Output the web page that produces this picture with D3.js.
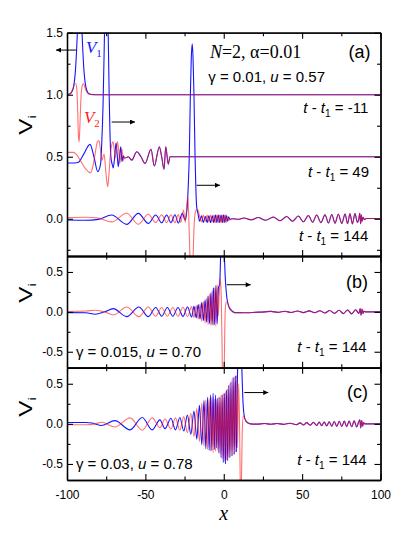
<!DOCTYPE html>
<html>
<head>
<meta charset="utf-8">
<script src="https://cdn.jsdelivr.net/npm/d3@7"></script>
<style>
body{margin:0;background:#fff;}
text{white-space:pre;}
</style>
</head>
<body>
<div class="chart"></div>
<script>
// tick values
var xMajor=[-100,-50,0,50,100];
var xMinor=[-75,-25,25,75];
var yMajorA=[0,0.5,1.0,1.5];
var yMinorA=[-0.25,0.25,0.75,1.25];
var yMajorB=[-0.5,0,0.5];
var yMinorB=[-0.25,0.25];

// panel (a): three times, shifted by these offsets
var offsetsA=[1.0,0.5,0.0];
var timesA=['-11','49','144'];

// (a) t-t1=-11
var a1Blue=[[-100,0.002],[-98,0.008],[-97,0.022],[-95.9,0.059],[-94.9,0.152],[-94.4,0.236],[-93.9,0.353],[-93.4,0.5],[-92.9,0.66],[-92.4,0.79],[-91.9,0.84],[-91.4,0.79],[-90.9,0.66],[-90.4,0.5],[-89.9,0.353],[-89.4,0.236],[-88.9,0.152],[-87.9,0.059],[-86.9,0.022],[-85.9,0.008],[-84,0.002],[-80,0],[100,0]];
var a1Red=[[-100,0],[-98,0.01],[-96.5,0.04],[-95.3,0.08],[-94.4,0.09],[-93.7,0.04],[-93.2,-0.12],[-92.7,-0.33],[-92.3,-0.38],[-91.9,-0.3],[-91.4,-0.12],[-90.8,0.03],[-90.1,0.08],[-89.4,0.09],[-88.6,0.06],[-87.6,0.025],[-86.2,0.006],[-84,0],[100,0]];

// (a) t-t1=49
var a2Blue=[[-100,-0.05],[-95,-0.05],[-92.8,-0.045],[-89.6,0.015],[-85.3,0.1],[-82.8,0.0],[-80.4,-0.12],[-78.6,-0.06],[-77.8,0.12],[-77,0.42],[-76.3,0.85],[-75.6,1.3],[-74.9,1.5],[-74.2,1.3],[-73.6,0.9],[-73.1,0.5],[-72.6,0.2],[-72.0,0.0],[-71.2,-0.06],[-70.5,-0.09],[-69.6,0.0],[-68.7,0.11],[-68.0,0.02],[-67.3,-0.08],[-66.5,0.0],[-65.7,0.08],[-64.9,-0.04],[-64.2,0.01],[-63.6,-0.01]];
var a2Red=[[-100,0.035],[-96,0.035],[-94,0.02],[-91.5,-0.03],[-88,-0.1],[-85,-0.13],[-83.5,-0.08],[-82,0.03],[-80.6,0.12],[-79.6,0.13],[-78.6,0.05],[-77.8,-0.03],[-77,0.0],[-76.3,0.02],[-75.5,-0.08],[-74.6,-0.2],[-74,-0.24],[-73.3,-0.15],[-72.3,0.02],[-71.4,0.1],[-70.6,0.12],[-69.8,0.05],[-69.2,-0.01],[-68.5,0.06],[-67.8,0.12],[-67.1,0.06],[-66.3,-0.05],[-65.7,0.0],[-65.1,0.065],[-64.5,0.02],[-64.0,-0.03],[-63.4,0.0]];
var tail49=[[-63,-0.01],[-60.9,0.0],[-58.7,-0.027],[-55.5,0.04],[-52.8,0.0],[-50.2,-0.054],[-46.4,0.06],[-44.3,-0.075],[-41.1,0.08],[-39.6,0.0],[-38.1,-0.1],[-37.0,0.08],[-35.4,-0.06],[-34.3,0.0],[-30,0.0],[100,0.0]];

// (a) t-t1=144
var a3Blue=[[-100,-0.01],[-88,-0.012],[-80,-0.005],[-71.5,0.03],[-61.9,-0.045],[-54.5,0.044],[-48.1,-0.037],[-43.4,0.03],[-39.6,-0.032],[-36.4,0.03],[-33.7,-0.032],[-31.1,0.032],[-29,-0.035],[-26.4,0.044],[-24.7,-0.01],[-23.9,0.03],[-23.3,0.1],[-22.6,0.28],[-22.0,0.5],[-21.3,1.0],[-20.7,1.3],[-20.1,1.41],[-19.6,1.3],[-19.0,1.0],[-18.3,0.5],[-17.8,0.25],[-17.3,0.1],[-16.4,0.04],[-15.4,-0.02],[-14.2,0.025],[-13.0,-0.03],[-11.8,0.02],[-10.6,-0.03],[-9.5,0.025],[-8.4,-0.03],[-7.3,0.025],[-6.3,-0.03],[-5.3,0.03],[-4.4,-0.03],[-3.5,0.03],[-2.6,-0.03],[-1.7,0.03],[-0.9,-0.03],[-0.1,0.03],[0.7,-0.03],[1.5,0.03],[2.3,-0.02],[3.1,0.015],[4.0,-0.005]];
var a3Red=[[-100,0.01],[-88,0.012],[-80,0.005],[-71.5,-0.025],[-61.9,0.045],[-54.5,-0.044],[-48.1,0.037],[-43.4,-0.03],[-39.6,0.032],[-36.4,-0.03],[-33.7,0.032],[-31.1,-0.032],[-29,0.035],[-27.5,-0.03],[-25.7,0.07],[-24.5,-0.03],[-23.0,0.18],[-22.4,0.05],[-21.6,-0.3],[-20.9,-0.6],[-20.4,-0.65],[-19.9,-0.5],[-19.2,-0.15],[-18.4,0.03],[-17.5,0.07],[-16.4,0.07],[-15.4,0.02],[-14.2,-0.025],[-13.0,0.03],[-11.8,-0.02],[-10.6,0.03],[-9.5,-0.025],[-8.4,0.03],[-7.3,-0.025],[-6.3,0.03],[-5.3,-0.03],[-4.4,0.03],[-3.5,-0.03],[-2.6,0.03],[-1.7,-0.03],[-0.9,0.03],[-0.1,-0.03],[0.7,0.03],[1.5,-0.03],[2.3,0.02],[3.1,-0.015],[4.0,-0.005]];
var tail144=[[6,0.0],[9,-0.004],[13,0.006],[17.5,-0.008],[22,0.01],[26.8,-0.012],[31.6,0.014],[35.9,-0.016],[40.2,0.018],[43.9,-0.02],[47.6,0.022],[50.8,-0.024],[54,0.026],[56.7,-0.028],[59.3,0.03],[62,-0.031],[64.6,0.033],[66.8,-0.034],[68.9,0.035],[71,-0.036],[73.1,0.037],[75.3,-0.038],[77.4,0.039],[79,-0.04],[80.5,0.04],[82.1,-0.041],[83.7,0.042],[85.3,-0.03],[86.3,0.01],[86.8,0.045],[87.3,-0.04],[87.8,0.03],[88.3,-0.02],[88.9,0.012],[89.6,-0.005],[91,0.002],[100,0.002]];

// (b) gamma=0.015
var bBlue=[[-100,-0.01],[-88,-0.012],[-82,-0.03],[-76,0.0],[-70.5,0.04],[-61.9,-0.06],[-54.1,0.06],[-48.1,-0.06],[-43.4,0.055],[-39.6,-0.055],[-36.0,0.055],[-32.5,-0.055],[-29.2,0.055],[-26.0,-0.058],[-23.1,0.06],[-20.5,-0.065],[-19.0,0.07],[-17.6,-0.075],[-16.3,0.09],[-15.1,-0.09],[-14.0,0.12],[-12.9,-0.11],[-11.9,0.15],[-10.9,-0.13],[-10.0,0.2],[-9.1,-0.15],[-8.2,0.24],[-7.4,-0.16],[-6.6,0.3],[-5.8,-0.16],[-5.0,0.33],[-4.2,-0.15],[-3.4,0.3],[-2.6,0.35],[-2.0,0.7],[-1.4,1.1],[-0.8,1.25],[-0.2,1.1],[0.3,0.75],[0.9,0.45],[1.9,0.19],[3,0.08],[4,0.04],[5.5,0.01],[7,-0.01]];
var bRed=[[-100,0.005],[-88,0.01],[-82,0.02],[-76,0.0],[-70.5,-0.04],[-61.9,0.06],[-54.1,-0.06],[-48.1,0.06],[-43.4,-0.055],[-39.6,0.055],[-36.0,-0.055],[-32.5,0.055],[-29.2,-0.055],[-26.0,0.058],[-23.1,-0.06],[-20.5,0.065],[-19.0,-0.07],[-17.6,0.08],[-16.3,-0.09],[-15.1,0.1],[-14.0,-0.12],[-12.9,0.13],[-11.9,-0.14],[-10.9,0.17],[-10.0,-0.16],[-9.1,0.22],[-8.2,-0.17],[-7.4,0.27],[-6.6,-0.17],[-5.8,0.3],[-5.0,-0.18],[-4.2,0.34],[-3.5,-0.05],[-2.9,0.2],[-2.2,0.42],[-1.6,0.2],[-1.1,-0.4],[-0.6,-1.1],[-0.1,-1.2],[0.4,-0.6],[0.9,0.0],[1.5,0.12],[2.3,0.12],[3.2,0.06],[4.5,0.015],[7,-0.01]];
var tailB=[[10,-0.01],[15,-0.012],[20,-0.006],[26,0.0],[30,0.006],[34.5,-0.006],[39,0.008],[43,-0.008],[47,0.01],[50.8,-0.01],[54.5,0.012],[58,-0.012],[61.3,0.014],[64.5,-0.015],[67.6,0.017],[70.6,-0.018],[73.5,0.02],[76.3,-0.022],[79,0.024],[81.6,-0.025],[84.2,0.026],[86.2,-0.02],[87.0,0.04],[87.6,-0.04],[88.2,0.035],[88.8,-0.02],[89.4,0.01],[90.2,0.0],[100,0.0]];

// (c) gamma=0.03
var cBlue=[[-100,0.017],[-88,0.017],[-84,0.01],[-77.9,-0.02],[-69.4,0.04],[-59.8,-0.075],[-52.0,0.08],[-45.6,-0.075],[-40.7,0.05],[-37.5,-0.06],[-33.7,0.07],[-30.8,-0.075],[-28.0,0.08],[-25.5,-0.09],[-23.2,0.11],[-21.0,-0.13],[-19.0,0.16],[-17.2,-0.19],[-15.5,0.23],[-14.0,-0.26],[-12.6,0.29],[-11.4,-0.31],[-10.3,0.33],[-9.3,-0.33],[-8.4,0.36],[-7.6,-0.33],[-6.8,0.38],[-6.0,-0.32],[-5.2,0.36],[-4.5,-0.3],[-3.8,0.32],[-3.1,-0.36],[-2.4,0.33],[-1.7,-0.42],[-1.0,0.36],[-0.3,-0.48],[0.4,0.38],[1.1,-0.5],[1.8,0.42],[2.5,-0.46],[3.2,0.48],[3.9,-0.42],[4.6,0.52],[5.3,-0.4],[6.0,0.58],[6.7,-0.38],[7.4,0.6],[8.1,-0.35],[8.8,0.65],[9.3,0.8],[9.9,1.0],[10.5,1.1],[11.1,0.95],[11.6,0.65],[12.1,0.35],[12.9,0.12],[14,0.04],[15.5,0.01],[17,0.0]];
var cRed=[[-100,-0.012],[-88,-0.012],[-82,0.0],[-77.9,0.02],[-69.4,-0.04],[-59.8,0.075],[-52.0,-0.08],[-45.6,0.075],[-40.7,-0.05],[-37.5,0.06],[-33.7,-0.065],[-30.8,0.075],[-28.0,-0.08],[-25.5,0.09],[-23.2,-0.11],[-21.0,0.13],[-19.0,-0.16],[-17.2,0.19],[-15.5,-0.22],[-14.0,0.26],[-12.6,-0.28],[-11.4,0.3],[-10.3,-0.32],[-9.3,0.32],[-8.4,-0.34],[-7.6,0.33],[-6.8,-0.36],[-6.0,0.31],[-5.2,-0.34],[-4.5,0.3],[-3.8,-0.33],[-3.1,0.34],[-2.4,-0.38],[-1.7,0.36],[-1.0,-0.44],[-0.3,0.38],[0.4,-0.47],[1.1,0.4],[1.8,-0.45],[2.5,0.44],[3.2,-0.42],[3.9,0.5],[4.6,-0.4],[5.3,0.55],[6.0,-0.38],[6.7,0.58],[7.4,-0.35],[8.1,0.6],[8.8,-0.3],[9.5,0.5],[10.0,0.1],[10.5,-0.7],[10.9,-1.1],[11.3,-0.7],[11.8,-0.1],[12.5,0.1],[13.5,0.06],[15,0.02],[17,0.0]];
var tailC=[[21,-0.004],[26,0.004],[30,-0.005],[34,0.005],[38,-0.006],[42.3,0.008],[46.5,-0.01],[48.7,0.012],[50.8,-0.014],[52.9,0.015],[55.0,-0.017],[57.2,0.018],[59.3,-0.02],[60.9,0.021],[62.5,-0.023],[64.1,0.024],[65.7,-0.026],[67.3,0.027],[68.9,-0.029],[70.5,0.03],[72.1,-0.031],[73.7,0.032],[75.3,-0.033],[76.9,0.034],[78.4,-0.035],[80.0,0.036],[81.6,-0.037],[83.2,0.037],[84.8,-0.038],[86.0,0.02],[86.8,0.05],[87.4,-0.05],[88.0,0.04],[88.6,-0.03],[89.2,0.015],[90,0.0],[100,0.0]];

var SANS='Liberation Sans, Arial, sans-serif';
var SERIF='Liberation Serif, Times New Roman, serif';
var BLUE='#1414ff',RED='#ff1a1a';

var width=415,height=540;
var left=67,right=380.5;
var svg=d3.select('div.chart')
		.append('svg')
		.attr('width',width)
		.attr('height',height)
		.style('background','#fff');

var xScale=d3.scaleLinear().domain([-100,100]).range([left,right]);

var panels=[
	{name:'a',top:32.7,bottom:256,dom:[-0.3,1.5],major:yMajorA,minor:yMinorA,titleY:125,
	 series:[{blue:a1Blue,red:a1Red,tail:null,off:offsetsA[0]},
	         {blue:a2Blue,red:a2Red,tail:tail49,off:offsetsA[1]},
	         {blue:a3Blue,red:a3Red,tail:tail144,off:offsetsA[2]}]},
	{name:'b',top:256,bottom:367.7,dom:[-0.7,0.7],major:yMajorB,minor:yMinorB,titleY:293,
	 series:[{blue:bBlue,red:bRed,tail:tailB,off:0}]},
	{name:'c',top:367.7,bottom:480,dom:[-0.7,0.7],major:yMajorB,minor:yMinorB,titleY:407,
	 series:[{blue:cBlue,red:cRed,tail:tailC,off:0}]}
];
panels.forEach(function(p){
	p.y=d3.scaleLinear().domain(p.dom).range([p.bottom,p.top]);
});

var defs=svg.append('defs');
defs.append('marker')
	.attr('id','head')
	.attr('viewBox','0 0 10 10')
	.attr('refX',10).attr('refY',5)
	.attr('markerUnits','userSpaceOnUse')
	.attr('markerWidth',7).attr('markerHeight',5)
	.attr('orient','auto')
	.append('path').attr('d','M0,0L10,5L0,10z').attr('fill','#000');

//curves
panels.forEach(function(p,i){
	defs.append('clipPath').attr('id','clip'+i)
		.append('rect')
		.attr('x',left).attr('y',p.top)
		.attr('width',right-left).attr('height',p.bottom-p.top);
	var g=svg.append('g').attr('clip-path','url(#clip'+i+')');
	var line=function(off){
		return d3.line()
			.x(function(d){return xScale(d[0]);})
			.y(function(d){return p.y(d[1]+off);})
			.curve(d3.curveMonotoneX);
	};
	p.series.forEach(function(s){
		g.append('path')
			.attr('d',line(s.off)(s.tail?s.blue.concat(s.tail):s.blue))
			.attr('fill','none').attr('stroke',BLUE).attr('stroke-width',1.1);
	});
	p.series.forEach(function(s){
		g.append('path')
			.attr('d',line(s.off)(s.tail?s.red.concat(s.tail):s.red))
			.attr('fill','none').attr('stroke',RED).attr('stroke-width',1.1)
			.attr('stroke-opacity',0.62);
	});
});

//axes
function styleAxis(sel){
	sel.attr('font-size',12).attr('font-family',SANS);
	sel.selectAll('line').attr('stroke','#000').attr('stroke-width',1.1);
	sel.selectAll('.domain').attr('stroke','#000').attr('stroke-width',1.3);
	sel.selectAll('text').attr('fill','#000');
}
panels.forEach(function(p,i){
	var g=svg.append('g');
	g.append('g').attr('transform','translate('+left+',0)')
		.call(d3.axisLeft(p.y).tickValues(p.major).tickSize(-6).tickSizeOuter(0).tickPadding(4)
			.tickFormat(function(d){return d.toFixed(1);}))
		.call(styleAxis);
	g.append('g').attr('transform','translate('+left+',0)')
		.call(d3.axisLeft(p.y).tickValues(p.minor).tickSize(-3.5).tickSizeOuter(0).tickFormat(''))
		.call(styleAxis);
	g.append('g').attr('transform','translate('+right+',0)')
		.call(d3.axisRight(p.y).tickValues(p.major).tickSize(-6).tickSizeOuter(0).tickFormat(''))
		.call(styleAxis);
	g.append('g').attr('transform','translate('+right+',0)')
		.call(d3.axisRight(p.y).tickValues(p.minor).tickSize(-3.5).tickSizeOuter(0).tickFormat(''))
		.call(styleAxis);
	g.append('g').attr('transform','translate(0,'+p.top+')')
		.call(d3.axisTop(xScale).tickValues(xMajor).tickSize(-6).tickSizeOuter(0).tickFormat(''))
		.call(styleAxis);
	g.append('g').attr('transform','translate(0,'+p.top+')')
		.call(d3.axisTop(xScale).tickValues(xMinor).tickSize(-3.5).tickSizeOuter(0).tickFormat(''))
		.call(styleAxis);
	var last=(i==panels.length-1);
	g.append('g').attr('transform','translate(0,'+p.bottom+')')
		.call(d3.axisBottom(xScale).tickValues(xMajor).tickSize(-6).tickSizeOuter(0).tickPadding(10)
			.tickFormat(last?function(d){return d;}:''))
		.call(styleAxis);
	g.append('g').attr('transform','translate(0,'+p.bottom+')')
		.call(d3.axisBottom(xScale).tickValues(xMinor).tickSize(-3.5).tickSizeOuter(0).tickFormat(''))
		.call(styleAxis);

	// y title V_i
	var t=svg.append('text')
		.attr('transform','translate(32,'+p.titleY+') rotate(-90) scale(1.35,1)')
		.attr('text-anchor','middle')
		.attr('font-family',SANS)
		.attr('font-size',18);
	t.append('tspan').text('V');
	t.append('tspan').text('i').attr('font-size',11).attr('dy',4);
});

svg.append('text')
	.attr('x',xScale(0)).attr('y',520)
	.attr('text-anchor','middle')
	.attr('font-family',SERIF).attr('font-style','italic')
	.attr('font-size',20)
	.text('x');

//text helper
function rich(p,x,y,anchor,size,family,parts,color){
	var t=svg.append('text')
		.attr('x',xScale(x)).attr('y',p.y(y))
		.attr('text-anchor',anchor)
		.attr('font-size',size)
		.attr('font-family',family)
		.attr('fill',color||'#000');
	parts.forEach(function(pt){
		var s=t.append('tspan').text(pt.t);
		if(pt.i) s.attr('font-style','italic');
		if(pt.sub) s.attr('font-size',pt.sub).attr('dy',4);
		if(pt.up) s.attr('dy',-4);
	});
	return t;
}
function tLabel(p,x,y,val){
	rich(p,x,y,'end',15,SANS,[{t:'t',i:1},{t:' - '},{t:'t',i:1},{t:'1',sub:10},{t:' = '+val,up:1}]);
}

var pa=panels[0],pb=panels[1],pc=panels[2];
rich(pa,-8.8,1.293,'start',18,SERIF,[{t:'N',i:1},{t:'=2, α=0.01'}]);
rich(pa,93.6,1.30,'end',18,SANS,[{t:'(a)'}]);
rich(pa,-9.9,1.10,'start',15,SANS,[{t:'γ = 0.01, '},{t:'u',i:1},{t:' = 0.57'}]);
tLabel(pa,92.2,0.85,timesA[0]);
tLabel(pa,92.7,0.339,timesA[1]);
tLabel(pa,92.2,-0.177,timesA[2]);
rich(pa,-87.9,1.334,'start',17,SERIF,[{t:'V',i:1},{t:'1',sub:11}],BLUE);
rich(pa,-89.2,0.77,'start',17,SERIF,[{t:'V',i:1},{t:'2',sub:11}],RED);

rich(pb,92,0.296,'end',18,SANS,[{t:'(b)'}]);
tLabel(pb,91.2,-0.5,'144');
rich(pb,-94.3,-0.57,'start',15,SANS,[{t:'γ = 0.015, '},{t:'u',i:1},{t:' = 0.70'}]);

rich(pc,92,0.325,'end',18,SANS,[{t:'(c)'}]);
tLabel(pc,91.2,-0.5075,'144');
rich(pc,-94.3,-0.5575,'start',15,SANS,[{t:'γ = 0.03, '},{t:'u',i:1},{t:' = 0.78'}]);

//arrows (data coords)
var arrows=[
	{p:pa,x1:-94.3,x2:-107.0,y:1.36},
	{p:pa,x1:-71.5,x2:-56.6,y:0.78},
	{p:pa,x1:-17.3,x2:-2.4,y:0.27},
	{p:pb,x1:1.9,x2:17.2,y:0.34},
	{p:pc,x1:13.1,x2:28.4,y:0.39}
];
arrows.forEach(function(a){
	svg.append('line')
		.attr('x1',xScale(a.x1)).attr('x2',xScale(a.x2))
		.attr('y1',a.p.y(a.y)).attr('y2',a.p.y(a.y))
		.attr('stroke','#000').attr('stroke-width',1)
		.attr('marker-end','url(#head)');
});
</script>
</body>
</html>
